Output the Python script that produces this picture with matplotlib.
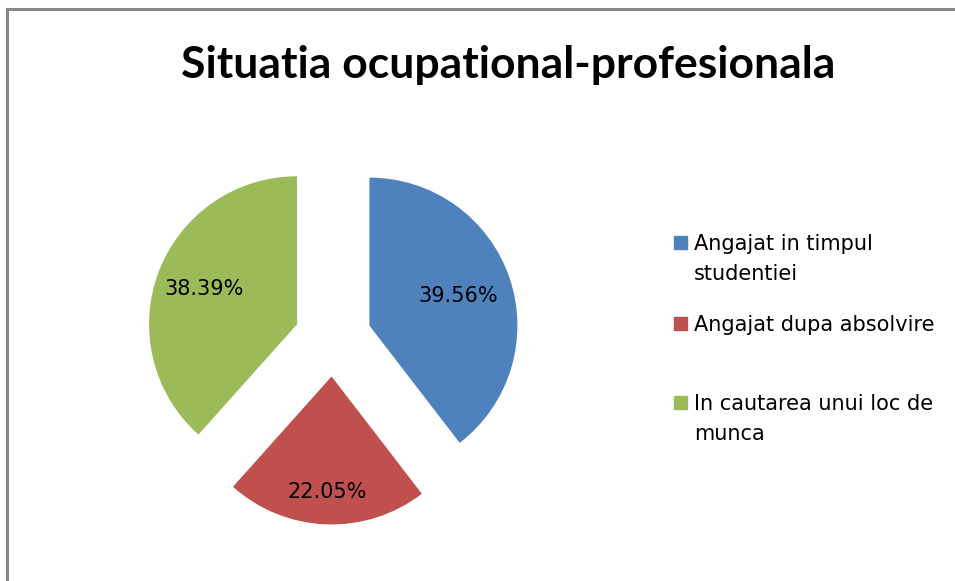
import numpy as np
import matplotlib.pyplot as plt
from matplotlib.lines import Line2D
from matplotlib.patches import Rectangle

# data
categories = ['Angajat in timpul\nstudentiei', 'Angajat dupa absolvire',
              'In cautarea unui loc de\nmunca']
values = [39.56, 22.05, 38.39]
colors = ['#4F81BD', '#C0504D', '#9BBB59']

W, H = 955, 581
fig = plt.figure(figsize=(W / 100, H / 100), dpi=100)

# pie axes, 400x400 px centred on the pie centre
R = 148.0
cx, cy = 333, H - 338
ax = fig.add_axes([(cx - 200) / W, (cy - 200) / H, 400 / W, 400 / H])
wedges, texts, autotexts = ax.pie(
    values, colors=colors, startangle=90, counterclock=False,
    explode=[0.26] * 3, autopct='%.2f%%', pctdistance=0.68,
    wedgeprops=dict(linewidth=0),
    textprops=dict(fontsize=15, family='DejaVu Sans', color='black'))
lim = 200 / R
ax.set_xlim(-lim, lim)
ax.set_ylim(-lim, lim)
ax.set_aspect('equal')
ax.axis('off')

# per-slice label distance, the way excel lays them out
label_dist = [0.63, 0.78, 0.67]
for w, t, d in zip(wedges, autotexts, label_dist):
    ang = np.deg2rad((w.theta1 + w.theta2) / 2)
    ox, oy = w.center
    t.set_position((ox + d * np.cos(ang), oy + d * np.sin(ang)))

fig.text(508 / W, 1 - 78 / H, 'Situatia ocupational-profesionala',
         ha='center', va='baseline', fontsize=32, fontweight='bold',
         family='Lato')

# legend drawn by hand so the marker sits on the first line
leg_base = [250, 331, 410]
for lab, col, y in zip(categories, colors, leg_base):
    fig.patches.append(Rectangle((674 / W, 1 - (y - 1) / H), 13 / W, 13 / H,
                                 transform=fig.transFigure, color=col))
    for i, line in enumerate(lab.split('\n')):
        fig.text(694 / W, 1 - (y + 30 * i) / H, line, ha='left',
                 va='baseline', fontsize=15, family='DejaVu Sans')

# chart border (left and top only are visible)
fig.lines.append(Line2D([7 / W, 7 / W], [0, 1 - 9 / H],
                        transform=fig.transFigure, color='#868686', lw=2.2))
fig.lines.append(Line2D([7 / W, 1], [1 - 9 / H, 1 - 9 / H],
                        transform=fig.transFigure, color='#868686', lw=2.2))

fig.savefig('out.png', dpi=100)
